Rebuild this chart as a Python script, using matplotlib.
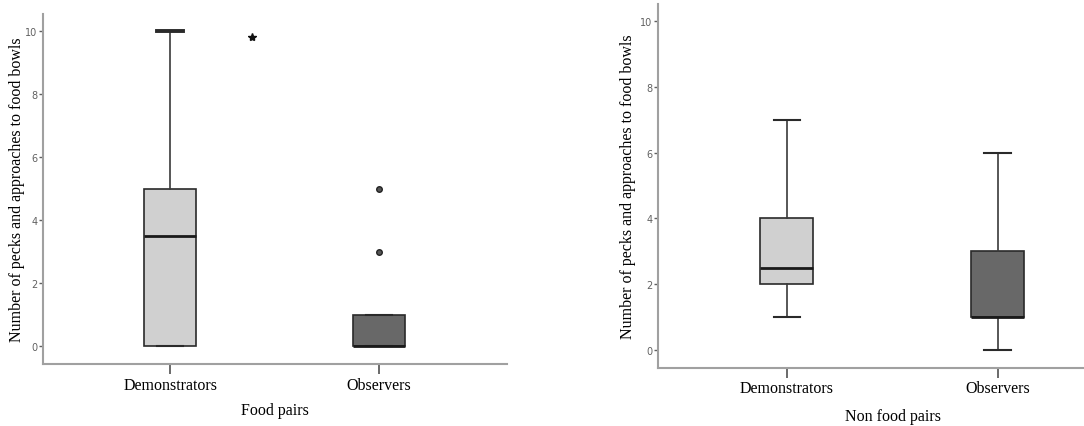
import matplotlib
matplotlib.use("Agg")
import matplotlib.pyplot as plt

groups = ["Demonstrators", "Observers"]

# food pairs: (whislo, q1, med, q3, whishi)
food_demo = [0, 0, 3.5, 5, 10]
food_obs = [0, 0, 0, 1, 1]
food_obs_outliers = [3, 5]
food_extreme_x = [0.39]
food_extreme_y = [9.8]

# non food pairs
nonfood_demo = [1, 2, 2.5, 4, 7]
nonfood_obs = [0, 1, 1, 3, 6]

box_colors = ["#d0d0d0", "#686868"]
yticks = [0, 2, 4, 6, 8, 10]


def stats(vals, fliers=()):
    lo, q1, med, q3, hi = vals
    return dict(whislo=lo, q1=q1, med=med, q3=q3, whishi=hi, fliers=list(fliers))


def draw(ax, data, xlabel, xlim, ylim, ypad):
    bp = ax.bxp(data, positions=[0, 1], widths=0.25, patch_artist=True,
                boxprops=dict(edgecolor="#2a2a2a", linewidth=1.2),
                medianprops=dict(color="#1a1a1a", linewidth=2.0),
                whiskerprops=dict(color="#3a3a3a", linewidth=1.2),
                capprops=dict(color="#2a2a2a", linewidth=1.5),
                flierprops=dict(marker="o", markersize=4, markerfacecolor="#555555",
                                markeredgecolor="#222222"))
    for patch, c in zip(bp["boxes"], box_colors):
        patch.set_facecolor(c)
    ax.set_xlim(*xlim)
    ax.set_ylim(*ylim)
    ax.set_yticks(yticks)
    ax.set_xticks([0, 1], groups, family="Liberation Serif", fontsize=11.5)
    ax.tick_params(axis="y", labelsize=7, colors="#606060", length=3, width=1, pad=1)
    ax.tick_params(axis="x", length=7, width=1.2, color="#505050", labelcolor="black", pad=2)
    for s in ["top", "right"]:
        ax.spines[s].set_visible(False)
    for s in ["left", "bottom"]:
        ax.spines[s].set_color("#a0a0a0")
        ax.spines[s].set_linewidth(1.5)
    ax.set_ylabel("Number of pecks and approaches to food bowls",
                  family="Liberation Serif", fontsize=11.5, labelpad=ypad)
    ax.set_xlabel(xlabel, family="Liberation Serif", fontsize=11.5)
    return bp


fig = plt.figure(figsize=(10.84, 4.27), dpi=100)
ax1 = fig.add_axes([0.0397, 0.145, 0.428, 0.82])
ax2 = fig.add_axes([0.607, 0.136, 0.393, 0.852])

bp1 = draw(ax1, [stats(food_demo), stats(food_obs, food_obs_outliers)], "Food pairs",
           (-0.608, 1.612), (-0.57, 10.54), 0)
bp1["caps"][1].set_linewidth(2.8)
ax1.plot(food_extreme_x, food_extreme_y, linestyle="none", marker="*",
         markersize=6, color="#111111")
ax1.xaxis.set_label_coords((275 - 43) / (507 - 43), -0.108)

draw(ax2, [stats(nonfood_demo), stats(nonfood_obs)], "Non food pairs",
     (-0.611, 1.41), (-0.55, 10.52), 3)
ax2.xaxis.set_label_coords((893 - 658) / (1084 - 658), -0.11)

fig.savefig("out.png", dpi=100)
